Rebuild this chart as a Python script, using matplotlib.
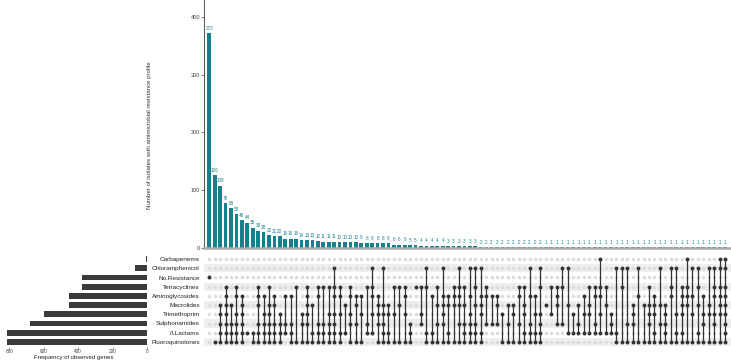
import matplotlib.pyplot as plt
import numpy as np

plt.rcParams['font.family'] = ['Liberation Sans', 'DejaVu Sans']

# resistance classes, top row of the matrix first
classes = ['Carbapenems', 'Chloramphenicol', 'No.Resistance', 'Tetracyclines',
           'Aminoglycosides', 'Macrolides', 'Trimethoprim', 'Sulphonamides',
           'ß.Lactams', 'Fluoroquinolones']
class_sizes = [5, 70, 375, 378, 455, 455, 600, 680, 812, 815]

# isolates per profile (intersection size)
profile_counts = [372, 126, 108, 78, 69, 59, 48, 44, 35, 30, 28, 22, 21, 20,
                  16, 16, 16, 14, 13, 13, 12, 11, 11, 11, 10, 10, 10, 10, 9,
                  8, 8, 8, 8, 8, 6, 6, 6, 5, 5, 4, 4, 4, 4, 4,
                  3, 3, 3, 3, 3, 3] + [2] * 12 + [1] * 34

# classes (row index) present in each profile
profiles = [
    [2], [9], [5, 6, 7, 8, 9], [3, 4, 5, 6, 7, 8, 9], [5, 7, 8, 9],
    [3, 4, 6, 7, 8, 9], [4, 5, 6, 7, 8, 9], [8], [8, 9], [3, 4, 5, 7, 8, 9],
    [4, 6, 7, 8, 9], [3, 5, 6, 7, 8, 9], [4, 5, 7, 8, 9], [6, 7, 8, 9], [4, 7, 8],
    [4, 7, 8, 9], [3, 9], [6, 7, 9], [3, 4, 5, 6, 7, 9], [5, 8, 9],
    [3, 4, 7, 8, 9], [3, 7, 8, 9], [3, 6, 7, 8, 9], [1, 3, 4, 6, 7, 8, 9], [3, 4, 6, 8, 9],
    [5, 8], [3, 4, 6, 7, 9], [4, 5, 7, 9], [4, 6, 9], [3, 7, 8],
    [1, 3, 4, 6, 8], [4, 5, 6, 7, 9], [1, 5, 6, 7, 8, 9], [5, 6, 8, 9], [3, 6, 9],
    [3, 5, 9], [3, 4, 6, 9], [7, 8, 9], [3], [3, 6, 7],
    [1, 3, 8, 9], [4, 8, 9], [3, 5, 7, 9], [1, 4, 5, 6, 7, 9], [4, 5, 8, 9],
    [3, 4, 5, 9], [1, 3, 4, 5, 7, 9], [3, 5, 7, 8, 9], [1, 4, 6, 7, 8, 9], [1, 3, 5, 7, 8, 9],
    [1, 4, 5, 6, 8, 9], [3, 4, 7], [4, 7], [4, 5, 7], [6, 9],
    [5, 7, 9], [5, 6, 9], [3, 4, 7, 9], [3, 5, 6, 8, 9], [1, 4, 7, 8, 9],
    [4, 6, 8, 9], [1, 3, 6, 7, 8, 9], [5], [3, 6], [3, 4, 5, 7],
    [1, 3, 7], [1, 5, 8], [6, 8], [5, 7, 8], [4, 6, 8],
    [3, 5, 6, 8], [3, 4, 7, 8], [0, 3, 4, 6, 8], [3, 5, 8], [6, 7, 8],
    [1, 8, 9], [1, 3, 9], [1, 7, 9], [5, 6, 7, 9], [1, 4, 9],
    [5, 9], [3, 5, 6, 7, 9], [4, 5, 6, 8, 9], [1, 5, 7, 9], [5, 6, 7, 8, 9],
    [1, 3, 4, 9], [1, 6, 8, 9], [3, 4, 5, 6, 8, 9], [0, 3, 4, 5, 9], [1, 4, 6, 9],
    [1, 3, 5, 8, 9], [4, 6, 7, 9], [1, 5, 6, 9], [1, 3, 4, 6, 7, 9], [0, 1, 3, 4, 5, 6, 9],
    [0, 1, 3, 4, 5, 6, 7, 8, 9],
]

teal = '#17808e'
dark = '#333333'

W, H = 731, 362
fig = plt.figure(figsize=(W / 100, H / 100), dpi=100)


def box(x0, y0, x1, y1):
    # pixel box (top-left origin) -> figure fraction
    return [x0 / W, 1 - y1 / H, (x1 - x0) / W, (y1 - y0) / H]


n = len(profile_counts)
x = np.arange(n)
xlim = (-0.97, n + 0.1)

# intersection bars
ax_bar = fig.add_axes(box(204, 0, 731, 248))
ax_bar.bar(x, profile_counts, width=0.7, color=teal)
for k, c in enumerate(profile_counts):
    ax_bar.text(k, c + 4, str(c), ha='center', va='bottom', fontsize=3.3, color=teal)
ax_bar.set_xlim(xlim)
ax_bar.set_ylim(0, 429)
ax_bar.set_yticks([0, 100, 200, 300, 400])
ax_bar.tick_params(axis='y', labelsize=4, colors='#444444', length=2, width=0.5, pad=1)
ax_bar.set_xticks([])
for s in ['top', 'right']:
    ax_bar.spines[s].set_visible(False)
ax_bar.spines['left'].set_color('#555555')
ax_bar.spines['left'].set_linewidth(0.7)
ax_bar.spines['bottom'].set_color('#aaaaaa')
ax_bar.spines['bottom'].set_linewidth(1.8)
ax_bar.set_ylabel('Number of isolates with antimicrobial resistance profile',
                  fontsize=4.4, color='#333333')
ax_bar.yaxis.set_label_coords(-0.099, 0.455)

# membership matrix
ax_m = fig.add_axes(box(204, 254.5, 731, 346.5))
nrows = len(classes)
for r in range(1, nrows, 2):
    ax_m.axhspan(r - 0.45, r + 0.45, color='#eeeeee', lw=0, zorder=0)
gx, gy = np.meshgrid(x, np.arange(nrows))
ax_m.scatter(gx.ravel(), gy.ravel(), s=6.5, color='#dcdcdc', lw=0, zorder=1)
for k, rows in enumerate(profiles):
    if len(rows) > 1:
        ax_m.plot([k, k], [min(rows), max(rows)], color=dark, lw=0.9, zorder=2)
    ax_m.scatter([k] * len(rows), rows, s=8, color=dark, lw=0, zorder=3)
ax_m.set_xlim(xlim)
ax_m.set_ylim(nrows - 0.5, -0.5)
ax_m.set_xticks([])
ax_m.set_yticks(range(nrows))
ax_m.set_yticklabels(classes, fontsize=4.6, color='#222222')
ax_m.tick_params(axis='y', length=0, pad=3)
for s in ax_m.spines.values():
    s.set_visible(False)

# class sizes
ax_s = fig.add_axes(box(0, 254.5, 147, 346.5))
ax_s.barh(range(nrows), class_sizes, height=0.62, color='#3a3a3a')
ax_s.set_ylim(nrows - 0.5, -0.5)
ax_s.set_xlim(854, 0)
ax_s.set_xticks([0, 200, 400, 600, 800])
ax_s.tick_params(axis='x', labelsize=3.4, colors='#444444', length=1.2, width=0.4, pad=0.5)
ax_s.set_yticks([])
ax_s.set_xlabel('Frequency of observed genes', fontsize=4.3, color='#222222', labelpad=0.5)
for s in ax_s.spines.values():
    s.set_visible(False)

fig.savefig('out.png', dpi=100)
